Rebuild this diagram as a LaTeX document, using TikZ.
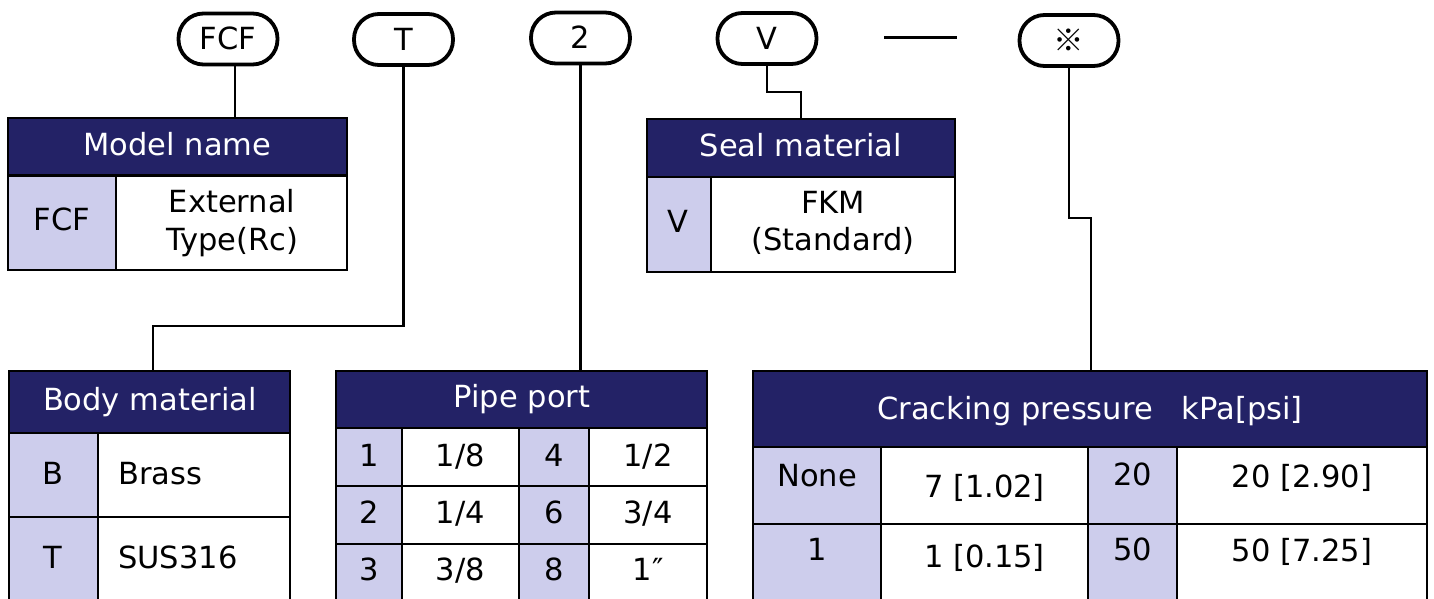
\documentclass[tikz,border=0pt]{standalone}
\usepackage{fontspec}
\setmainfont{DejaVu Sans}
\newfontfamily\cjkfont{Noto Sans CJK JP}
\definecolor{navy}{RGB}{35,34,102}
\definecolor{lav}{RGB}{205,205,236}
\begin{document}
\begin{tikzpicture}[x=1pt,y=-1pt,
  txt/.style={inner sep=0pt,anchor=base,font=\fontsize{30.5}{36}\selectfont},
  txtw/.style={txt,anchor=base west},
  hd/.style={txt,text=white},
  hdbox/.style={fill=navy,inner sep=0pt,anchor=north west},
  pill/.style={draw,line width=3.8pt,rounded corners=25pt,minimum width=99pt,minimum height=51pt,inner sep=0pt,text height=22pt,text depth=0pt,font=\fontsize{30.5}{36}\selectfont},
  conn/.style={line width=2.1pt},
  gridl/.style={line width=2.7pt},
]
\useasboundingbox (0,0) rectangle (1434,599);
\clip (0,0) rectangle (1434,599);
\fill[white] (0,0) rectangle (1434,599);

% pills
\node[pill] (pFCF) at (228,39) {FCF};
\node[pill] (pT) at (403.5,39.5) {T};
\node[pill] (p2) at (580.5,38) {2};
\node[pill] (pV) at (767,38.5) {V};
\node[pill] (pX) at (1069,40.5) {\cjkfont ※};
\coordinate (d1) at (884,38);
\coordinate (d2) at (957,38);
\draw[line width=3pt] (d1) -- (d2);

% header nodes
\node[hdbox,minimum width=339pt,minimum height=57.5pt] (hModel) at (8,118) {};
\node[hdbox,minimum width=308pt,minimum height=58pt] (hSeal) at (647,119) {};
\node[hdbox,minimum width=281pt,minimum height=62pt] (hBody) at (9,371) {};
\node[hdbox,minimum width=371pt,minimum height=57pt] (hPipe) at (336,371) {};
\node[hdbox,minimum width=674pt,minimum height=76pt] (hCrack) at (753,371) {};

% connectors
\coordinate (bT) at (153,326);
\coordinate (bV) at (801,92);
\coordinate (bX) at (1091,218);
\draw[conn] ([xshift=7pt]pFCF.south) -- ([xshift=7pt]pFCF.south |- hModel.north);
\draw[conn] (pT.south) |- (bT) -- (bT |- hBody.north);
\draw[conn] (p2.south) -- (p2.south |- hPipe.north);
\draw[conn] (pV.south) |- (bV) -- (bV |- hSeal.north);
\draw[conn] (pX.south) |- (bX) -- (bX |- hCrack.north);

% Model name table
\fill[lav] (8,175.5) rectangle (116,270);
\draw[gridl] (8,118) rectangle (347,270);
\draw[gridl] (8,175.5) -- (347,175.5);
\draw[gridl] (116,175.5) -- (116,270);
\node[hd] (tModel) at (177.5,155) {Model name};
\node[txt] (kFCF) at (62,230) {FCF};
\node[txt] (vExt1) at (232,212) {External};
\node[txt] (vExt2) at (232,250) {Type(Rc)};

% Seal material table
\fill[lav] (647,177) rectangle (711,272);
\draw[gridl] (647,119) rectangle (955,272);
\draw[gridl] (647,177) -- (955,177);
\draw[gridl] (711,177) -- (711,272);
\node[hd] (tSeal) at (801,156) {Seal material};
\node[txt] (kV) at (678,232) {V};
\node[txt] (vV1) at (833,213) {FKM};
\node[txt] (vV2) at (833,250) {(Standard)};

% Body material table
\fill[lav] (9,433) rectangle (98,610);
\draw[gridl] (9,371) rectangle (290,610);
\draw[gridl] (9,433) -- (290,433);
\draw[gridl] (9,517) -- (290,517);
\draw[gridl] (98,433) -- (98,610);
\node[hd] (tBody) at (150,410) {Body material};
\node[txt] (kB) at (53,484) {B};
\node[txtw] (vB) at (118,484) {Brass};
\node[txt] (kT) at (53,568) {T};
\node[txtw] (vT) at (118,568) {SUS316};

% Pipe port table
\fill[lav] (336,428) rectangle (402,610);
\fill[lav] (519,428) rectangle (589,610);
\draw[gridl] (336,371) rectangle (707,610);
\draw[gridl] (336,428) -- (707,428);
\draw[gridl] (336,486) -- (707,486);
\draw[gridl] (336,544) -- (707,544);
\draw[gridl] (402,428) -- (402,610);
\draw[gridl] (519,428) -- (519,610);
\draw[gridl] (589,428) -- (589,610);
\node[hd] (tPipe) at (522,407) {Pipe port};
\node[txt] (k1) at (369,466) {1};
\node[txt] (v1) at (460.5,466) {1/8};
\node[txt] (k4) at (554,466) {4};
\node[txt] (v4) at (648,466) {1/2};
\node[txt] (k2) at (369,523) {2};
\node[txt] (v2) at (460.5,523) {1/4};
\node[txt] (k6) at (554,523) {6};
\node[txt] (v6) at (648,523) {3/4};
\node[txt] (k3) at (369,580) {3};
\node[txt] (v3) at (460.5,580) {3/8};
\node[txt] (k8) at (554,580) {8};
\node[txt] (v8) at (648,580) {1″};

% Cracking pressure table
\fill[lav] (753,447) rectangle (881,610);
\fill[lav] (1088,447) rectangle (1177,610);
\draw[gridl] (753,371) rectangle (1427,610);
\draw[gridl] (753,447) -- (1427,447);
\draw[gridl] (753,524) -- (1427,524);
\draw[gridl] (881,447) -- (881,610);
\draw[gridl] (1088,447) -- (1088,610);
\draw[gridl] (1177,447) -- (1177,610);
\node[hd] (tCrack) at (1090,419) {Cracking pressure~~~kPa[psi]};
\node[txt] (kNone) at (817,486) {None};
\node[txt] (vNone) at (984.5,497) {7 [1.02]};
\node[txt] (k20) at (1132.5,485) {20};
\node[txt] (v20) at (1302,487) {20 [2.90]};
\node[txt] (kOne) at (817,560) {1};
\node[txt] (vOne) at (984.5,567) {1 [0.15]};
\node[txt] (k50) at (1132.5,560) {50};
\node[txt] (v50) at (1302,561) {50 [7.25]};
\end{tikzpicture}
\end{document}
